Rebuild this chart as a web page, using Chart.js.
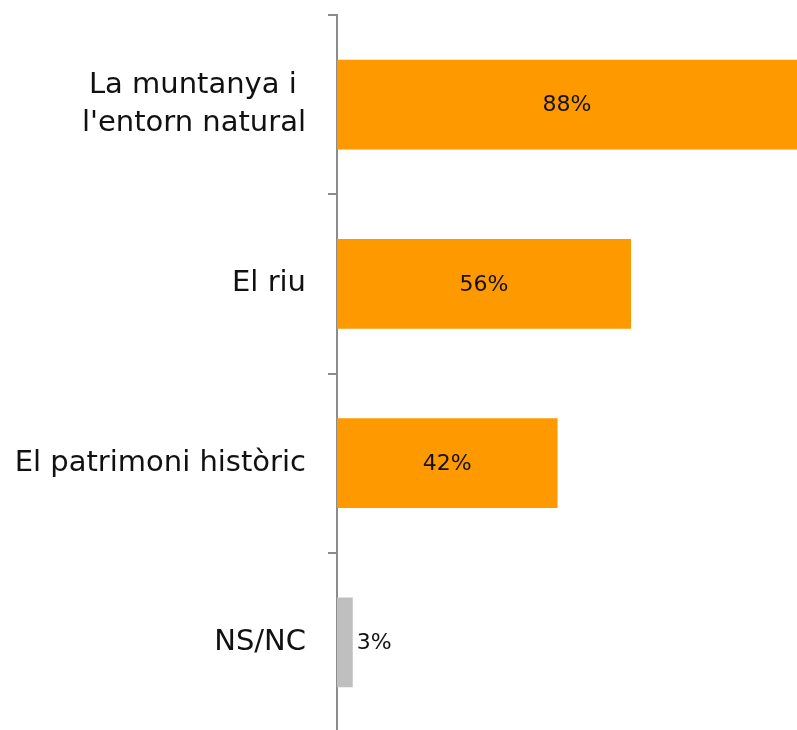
<!DOCTYPE html>
<html lang="ca">
<head>
	<meta charset="UTF-8">
	<title>entorn</title>
	<script src="https://cdn.jsdelivr.net/npm/chart.js@4"></script>
	<style>
		body { margin: 0; overflow: hidden; background: #fff; }
		#wrap { width: 797px; height: 742px; }
	</style>
</head>
<body>
<div id="wrap"><canvas id="myChart"></canvas></div>
<script>
	const categories = [['La muntanya i ', "l'entorn natural"], 'El riu', 'El patrimoni històric', 'NS/NC'];
	const values = [88, 56, 42, 3];
	const barColors = ['#ff9900', '#ff9900', '#ff9900', '#bfbfbf'];

	// writes the % labels, inside the bar or just after it when the bar is short
	const valueLabels = {
		id: 'valueLabels',
		afterDatasetsDraw(chart) {
			const ctx = chart.ctx;
			const area = chart.chartArea;
			const meta = chart.getDatasetMeta(0);
			ctx.save();
			ctx.font = '22px "DejaVu Sans"';
			ctx.fillStyle = '#111';
			ctx.textBaseline = 'middle';
			meta.data.forEach((bar, i) => {
				const right = Math.min(bar.x, area.right);
				const txt = values[i] + '%';
				if (right - bar.base > 60) {
					ctx.textAlign = 'center';
					ctx.fillText(txt, (bar.base + right) / 2, bar.y + 1);
				} else {
					ctx.textAlign = 'left';
					ctx.fillText(txt, right + 4, bar.y + 1);
				}
			});
			ctx.restore();
		}
	};

	const ctx = document.getElementById('myChart').getContext('2d');
	const myChart = new Chart(ctx, {
		type: 'bar',
		data: {
			labels: categories,
			datasets: [{
				data: values,
				backgroundColor: barColors,
				borderWidth: 0,
				barPercentage: 0.5,
				categoryPercentage: 1
			}]
		},
		options: {
			indexAxis: 'y',
			responsive: true,
			maintainAspectRatio: false,
			animation: false,
			layout: { padding: { top: 15, right: 0, bottom: 10, left: 0 } },
			plugins: { legend: { display: false }, tooltip: { enabled: false } },
			scales: {
				x: {
					display: false,
					min: 0,
					max: 87.6
				},
				y: {
					afterFit(scale) {
						scale.width = 337;
						scale.paddingTop = 0;
						scale.paddingBottom = 0;
					},
					border: { color: '#8c8c8c', width: 2 },
					grid: {
						offset: true,
						drawOnChartArea: false,
						color: '#8c8c8c',
						lineWidth: 2,
						tickLength: 9
					},
					ticks: {
						color: '#111',
						padding: 22,
						font: { family: 'DejaVu Sans', size: 29, lineHeight: 1.3 }
					}
				}
			}
		},
		plugins: [valueLabels]
	});
</script>
</body>
</html>
